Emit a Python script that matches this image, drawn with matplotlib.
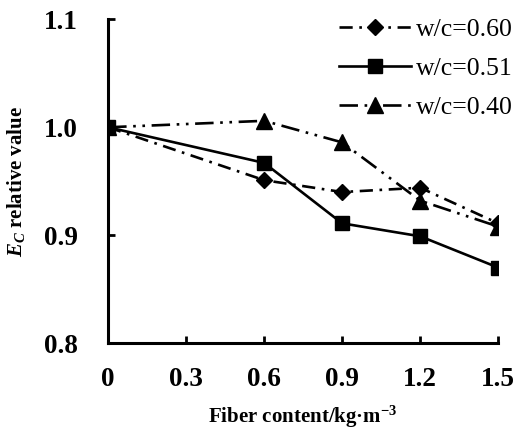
import matplotlib
matplotlib.use('Agg')
import matplotlib.pyplot as plt

# data
fiber = [0, 0.6, 0.9, 1.2, 1.5]
wc060 = [1.000, 0.951, 0.940, 0.944, 0.911]
wc051 = [1.000, 0.967, 0.911, 0.899, 0.870]
wc040 = [1.000, 1.006, 0.986, 0.932, 0.908]
xticks = [0, 0.3, 0.6, 0.9, 1.2, 1.5]
xtick_labels = ['0', '0.3', '0.6', '0.9', '1.2', '1.5']
yticks = [0.8, 0.9, 1.0, 1.1]
ytick_labels = ['0.8', '0.9', '1.0', '1.1']

plt.rcParams['font.family'] = ['Liberation Serif', 'DejaVu Serif']
plt.rcParams['mathtext.fontset'] = 'custom'
plt.rcParams['mathtext.rm'] = 'Liberation Serif:bold'
plt.rcParams['mathtext.it'] = 'Liberation Serif:bold:italic'
plt.rcParams['mathtext.bf'] = 'Liberation Serif:bold'

fig = plt.figure(figsize=(5.3, 4.3), dpi=100)
ax = fig.add_axes([0.204, 0.202, 0.736, 0.753])

lw = 1.9
ax.plot(fiber, wc060, color='black', lw=lw, ls=(0, (5, 2.5, 1, 2.5)),
        marker='D', markersize=8.5, label='w/c=0.60')
ax.plot(fiber, wc051, color='black', lw=lw, ls='-',
        marker='s', markersize=10, label='w/c=0.51')
ax.plot(fiber, wc040, color='black', lw=lw, ls=(0, (7, 2.5, 1, 2.5, 1, 2.5)),
        marker='^', markersize=11, label='w/c=0.40')

ax.set_xlim(0, 1.5)
ax.set_ylim(0.8, 1.1)
ax.set_xticks(xticks)
ax.set_xticklabels(xtick_labels)
ax.set_yticks(yticks)
ax.set_yticklabels(ytick_labels)

for lab in ax.get_xticklabels() + ax.get_yticklabels():
    lab.set_fontweight('bold')
    lab.set_fontsize(19.5)

ax.tick_params(direction='in', length=5, width=2, pad=17)
ax.tick_params(axis='y', pad=22)
ax.spines['top'].set_visible(False)
ax.spines['right'].set_visible(False)
ax.spines['left'].set_linewidth(2.2)
ax.spines['bottom'].set_linewidth(2.2)

ax.set_xlabel('Fiber content/kg\u00b7m$^{-3}$', fontsize=15, fontweight='bold', labelpad=9)
ax.set_ylabel('$E_C$ relative value', fontsize=15, fontweight='bold', labelpad=12)

leg = ax.legend(loc='upper right', bbox_to_anchor=(1.065, 1.035), frameon=False,
                fontsize=18.5, handlelength=2.8, handletextpad=0.2,
                labelspacing=0.62, borderaxespad=0.0)

fig.savefig('out.png', dpi=100)
